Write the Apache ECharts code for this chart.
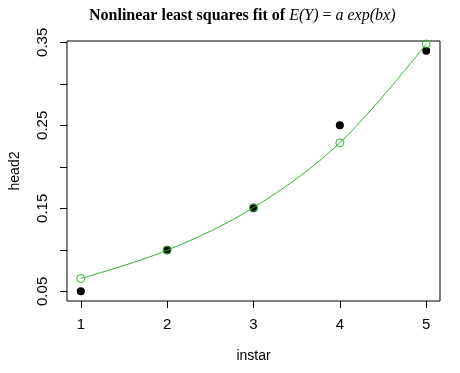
<!DOCTYPE html>
<html>
<head>
<meta charset="utf-8">
<script src="https://cdn.jsdelivr.net/npm/echarts@6/dist/echarts.min.js"></script>
<style>html,body{margin:0;padding:0;background:#fff}#c{width:460px;height:373px}</style>
</head>
<body>
<div id="c"></div>
<script>
const instar = [1, 2, 3, 4, 5];
const head2 = [0.05, 0.10, 0.15, 0.25, 0.34];
const fitted = [0.0655, 0.0995, 0.151, 0.229, 0.348];
const xTicks = [1, 2, 3, 4, 5];
const yTicks = [0.05, 0.10, 0.15, 0.20, 0.25, 0.30, 0.35];
const yTickLabels = [0.05, 0.15, 0.25, 0.35];

const chart = echarts.init(document.getElementById('c'), null, {renderer: 'canvas'});
const green = '#2db42d';
const sans = 'Liberation Sans';
chart.setOption({
  animation: false,
  backgroundColor: '#fff',
  title: {
    left: 89, top: 8, padding: 0,
    text: '{b|Nonlinear least squares fit of }{i|E(Y)}{n| = }{i|a exp(bx)}',
    textStyle: {
      rich: {
        b: {fontFamily: 'Liberation Serif', fontWeight: 'bold', fontSize: 16, color: '#000'},
        i: {fontFamily: 'Liberation Serif', fontStyle: 'italic', fontWeight: 'normal', fontSize: 16, color: '#000'},
        n: {fontFamily: 'Liberation Serif', fontWeight: 'normal', fontSize: 16, color: '#000'}
      }
    }
  },
  grid: {left: 63, right: 20, top: 41, bottom: 72, show: true, borderColor: '#000', borderWidth: 1, backgroundColor: 'transparent'},
  xAxis: {
    type: 'value', min: 0.84, max: 5.16,
    name: 'instar', nameLocation: 'middle', nameGap: 48,
    nameTextStyle: {fontFamily: sans, fontSize: 14, color: '#000'},
    axisLine: {show: false},
    axisTick: {show: true, inside: false, length: 7, customValues: xTicks, lineStyle: {color: '#000'}},
    axisLabel: {customValues: xTicks, margin: 16, fontFamily: sans, fontSize: 15, color: '#000'},
    splitLine: {show: false}
  },
  yAxis: {
    type: 'value', min: 0.0384, max: 0.3516,
    name: 'head2', nameLocation: 'middle', nameGap: 45, nameRotate: 90,
    nameTextStyle: {fontFamily: sans, fontSize: 14, color: '#000'},
    axisLine: {show: false},
    axisTick: {show: true, inside: false, length: 7, customValues: yTicks, lineStyle: {color: '#000'}},
    axisLabel: {customValues: yTickLabels, rotate: 90, margin: 17, fontFamily: sans, fontSize: 15, color: '#000',
      formatter: v => v.toFixed(2)},
    splitLine: {show: false}
  },
  series: [
    {
      type: 'scatter', data: instar.map((x, i) => [x, head2[i]]),
      symbol: 'circle', symbolSize: 8, itemStyle: {color: '#000', opacity: 1}, z: 2
    },
    {
      type: 'line', data: instar.map((x, i) => [x, fitted[i]]),
      smooth: 0.35, symbol: 'circle', symbolSize: 8, showAllSymbol: true,
      lineStyle: {color: green, width: 1},
      itemStyle: {color: 'rgba(0,0,0,0)', borderColor: green, borderWidth: 1},
      clip: true, z: 3
    }
  ]
});
</script>
</body>
</html>
